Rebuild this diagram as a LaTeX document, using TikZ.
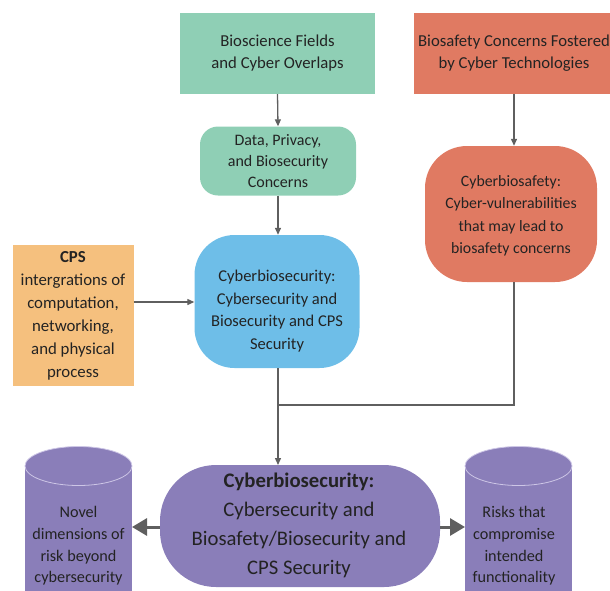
\documentclass[tikz,border=0pt]{standalone}
\usepackage{fontspec}
\setmainfont{Carlito}
\usetikzlibrary{arrows.meta}
\definecolor{mint}{RGB}{143,207,181}
\definecolor{salmon}{RGB}{224,122,98}
\definecolor{skyb}{RGB}{110,190,232}
\definecolor{tan}{RGB}{245,192,126}
\definecolor{purp}{RGB}{138,126,185}
\definecolor{lav}{RGB}{205,198,230}
\definecolor{txt}{RGB}{35,35,35}
\definecolor{arr}{RGB}{95,95,95}
\tikzset{
  boxbase/.style={draw=none, align=center, text=txt, inner sep=0pt, font=\fontsize{16.7}{22}\selectfont},
  conn/.style={draw=arr, line width=1.3pt, -{Triangle[length=7pt,width=6pt]}},
  plain/.style={draw=arr, line width=1.3pt},
  bigarr/.style={draw=arr, line width=3pt, -{Triangle[length=15pt,width=17pt]}},
  txtnode/.style={align=center, text=txt, inner sep=0pt}
}
\begin{document}
\begin{tikzpicture}[x=1pt,y=-1pt]
\useasboundingbox (0,0) rectangle (610,590);
\clip (0,0) rectangle (610,590);
% top boxes
\node[boxbase, fill=mint, minimum width=195pt, minimum height=81pt] (bio) at (277.5,53.5) {Bioscience Fields\\and Cyber Overlaps};
\node[boxbase, fill=salmon, minimum width=200pt, minimum height=81pt] (fost) at (514,53.5) {Biosafety Concerns Fostered\\by Cyber Technologies};
% data privacy
\node[boxbase, fill=mint, rounded corners=18pt, minimum width=156pt, minimum height=69pt, font=\fontsize{16}{21}\selectfont] (dpb) at (278,161) {Data, Privacy,\\and Biosecurity\\Concerns};
% cyberbiosafety
\node[boxbase, fill=salmon, rounded corners=42pt, minimum width=172pt, minimum height=136pt] (cbsf) at (511,214) {};
\node[txtnode, font=\fontsize{15.8}{22.5}\selectfont] (cbsft) at (511,216) {Cyberbiosafety:\\Cyber-vulnerabilities\\that may lead to\\biosafety concerns};
% blue
\node[boxbase, fill=skyb, rounded corners=40pt, minimum width=165pt, minimum height=133pt] (blue) at (277,301.5) {};
\node[txtnode, font=\fontsize{16.5}{22.5}\selectfont] (bluet) at (277,311) {Cyberbiosecurity:\\Cybersecurity and\\Biosecurity and CPS\\Security};
% CPS
\node[boxbase, fill=tan, minimum width=121pt, minimum height=141pt, font=\fontsize{16.8}{23}\selectfont] (cps) at (73,315.5) {\textbf{CPS}\\intergrations of\\computation,\\networking,\\and physical\\process};
% purple center
\node[boxbase, fill=purp, rounded corners=56pt, minimum width=280pt, minimum height=122pt] (cbs) at (300,526) {};
\node[txtnode, font=\fontsize{20.7}{29}\selectfont] (cbst) at (299,525) {\textbf{Cyberbiosecurity:}\\Cybersecurity and\\Biosafety/Biosecurity and\\CPS Security};
% cylinders
\fill[purp] (25,466) rectangle (132,600);
\filldraw[fill=purp, draw=lav, line width=0.8pt] (78.5,466) ellipse [x radius=53.5pt, y radius=19.5pt];
\node[txtnode, font=\fontsize{16.2}{21.7}\selectfont] (novel) at (78.5,546) {Novel\\dimensions of\\risk beyond\\cybersecurity};
\fill[purp] (465,466) rectangle (572,600);
\filldraw[fill=purp, draw=lav, line width=0.8pt] (518.5,466) ellipse [x radius=53.5pt, y radius=19.5pt];
\node[txtnode, font=\fontsize{16.2}{21.7}\selectfont] (risks) at (514,546) {Risks that\\compromise\\intended\\functionality};
\coordinate (novelR) at (132,527);
\coordinate (risksL) at (465,527);
% connectors
\draw[conn] (bio.south) -- (dpb.north);
\draw[conn] (dpb.south) -- (dpb.south |- blue.north);
\draw[conn] (fost.south) -- (fost.south |- cbsf.north);
\draw[conn] (cps.east |- 0,302) -- (blue.west |- 0,302);
\coordinate (join) at (278,405);
\draw[plain] (cbsf.south -| 514,0) |- (join);
\draw[conn] (278,368) -- (278,465);
\draw[bigarr] (cbs.west |- novelR) -- (novelR);
\draw[bigarr] (cbs.east |- risksL) -- (risksL);
\end{tikzpicture}
\end{document}
